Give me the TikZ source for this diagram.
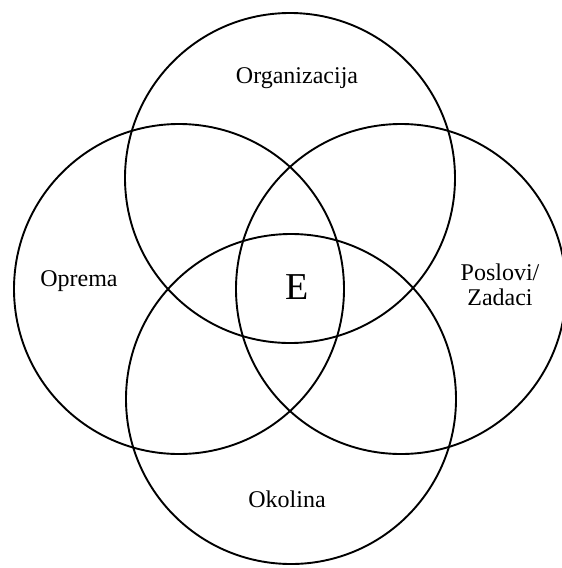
\documentclass[tikz,border=0pt]{standalone}
\usepackage{fontspec}
\setmainfont{Liberation Serif}
\begin{document}
\begin{tikzpicture}[x=1pt,y=-1pt,
  ring/.style={circle,draw=black,line width=1.9pt,minimum size=330pt,inner sep=0pt},
  lbl/.style={font=\fontsize{24}{25}\selectfont,align=center,inner sep=0pt}]
\useasboundingbox (0,0) rectangle (562,568);
\node[ring] (org) at (290,178) {};
\node[ring] (opr) at (179,289) {};
\node[ring] (pos) at (401,289) {};
\node[ring] (oko) at (291,399) {};
\node[lbl] (torg) at (297,78) {Organizacija};
\node[lbl] (topr) at (79,281) {Oprema};
\node[lbl] (tpos) at (500,285) {Poslovi/\\Zadaci};
\node[lbl] (toko) at (287,499) {Okolina};
\node[lbl,font=\fontsize{38}{40}\selectfont] (te) at (297,287) {E};
\end{tikzpicture}
\end{document}
